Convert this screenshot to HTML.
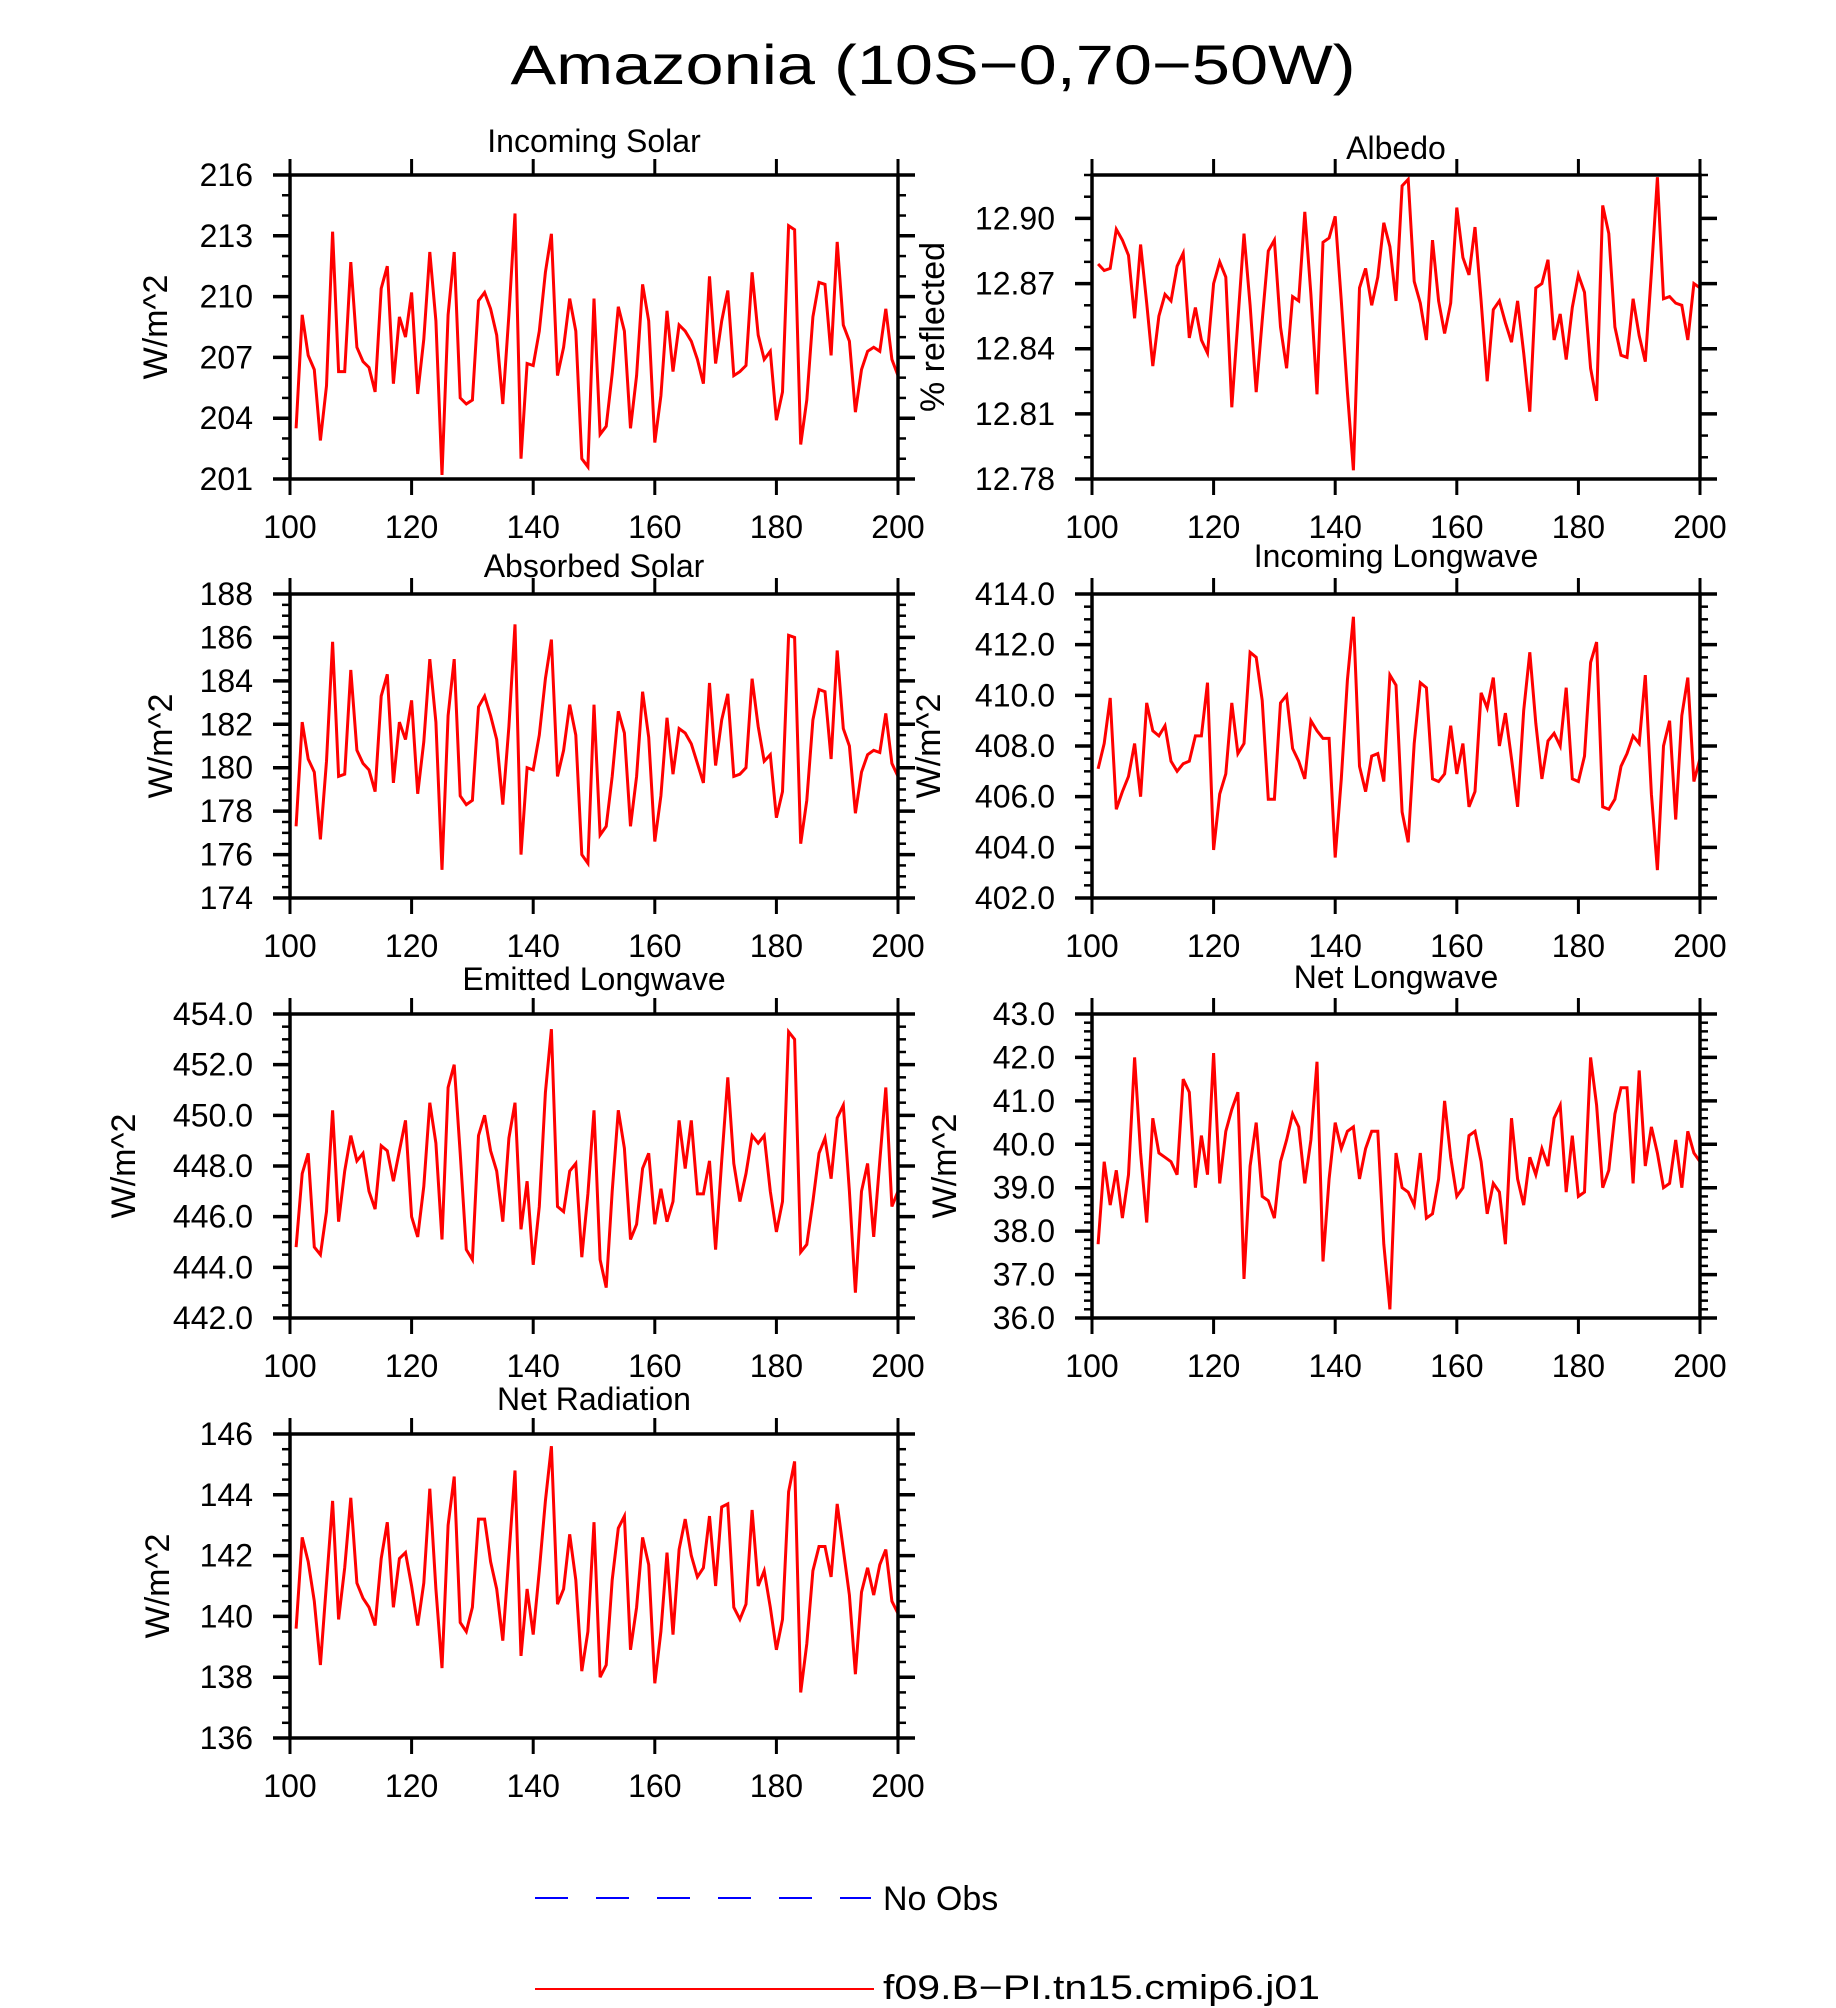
<!DOCTYPE html>
<html>
<head>
<meta charset="utf-8">
<style>
html,body{margin:0;padding:0;background:#fff;}
svg{display:block;font-family:"Liberation Sans",sans-serif;}
</style>
</head>
<body>
<svg id="chart" xmlns="http://www.w3.org/2000/svg" width="1836" height="2008" viewBox="0 0 1836 2008">
<rect x="0" y="0" width="1836" height="2008" fill="#fff"/>
<text x="933" y="84" font-size="56" text-anchor="middle" textLength="845" lengthAdjust="spacingAndGlyphs">Amazonia (10S−0,70−50W)</text>
<g id="panels"></g>
<g>
<line x1="535" y1="1898" x2="871" y2="1898" stroke="#0000ff" stroke-width="2" stroke-dasharray="33,28"/>
<text x="883" y="1910" font-size="34">No Obs</text>
<line x1="535" y1="1989" x2="874" y2="1989" stroke="#ff0000" stroke-width="2"/>
<text x="883" y="1999" font-size="34" textLength="437" lengthAdjust="spacingAndGlyphs">f09.B−PI.tn15.cmip6.j01</text>
</g>
</svg>
<script>
const startYear = 101;
const xTicks = [100, 120, 140, 160, 180, 200];
const incomingSolar = [203.5,209.1,207.1,206.4,202.9,205.6,213.2,206.3,206.3,211.7,207.5,206.8,206.5,205.3,210.4,211.5,205.7,209.0,208.0,210.2,205.2,207.9,212.2,208.8,201.2,209.1,212.2,205.0,204.7,204.9,209.8,210.2,209.4,208.1,204.7,209.1,214.1,202.0,206.7,206.6,208.3,211.2,213.1,206.1,207.5,209.9,208.3,202.0,201.6,209.9,203.2,203.6,206.2,209.5,208.3,203.5,206.1,210.6,208.8,202.8,205.1,209.3,206.3,208.6,208.3,207.8,206.9,205.7,211.0,206.7,208.8,210.3,206.1,206.3,206.6,211.2,208.1,206.9,207.3,203.9,205.3,213.5,213.3,202.7,204.9,209.0,210.7,210.6,207.1,212.7,208.6,207.8,204.3,206.4,207.3,207.5,207.3,209.4,206.9,206.1];
const albedo = [12.879,12.876,12.877,12.895,12.890,12.883,12.854,12.888,12.861,12.832,12.855,12.865,12.862,12.878,12.884,12.845,12.859,12.844,12.838,12.870,12.880,12.873,12.813,12.853,12.893,12.860,12.820,12.853,12.885,12.890,12.850,12.831,12.864,12.862,12.903,12.865,12.819,12.889,12.891,12.901,12.862,12.820,12.784,12.868,12.877,12.860,12.873,12.898,12.887,12.862,12.915,12.918,12.871,12.861,12.844,12.890,12.862,12.847,12.861,12.905,12.882,12.874,12.896,12.862,12.825,12.858,12.862,12.852,12.843,12.862,12.838,12.811,12.868,12.870,12.881,12.844,12.856,12.835,12.859,12.874,12.866,12.831,12.816,12.906,12.893,12.850,12.837,12.836,12.863,12.846,12.834,12.875,12.919,12.863,12.864,12.861,12.860,12.844,12.870,12.868];
const absorbedSolar = [177.3,182.1,180.4,179.8,176.7,180.3,185.8,179.6,179.7,184.5,180.8,180.2,179.9,178.9,183.3,184.3,179.3,182.1,181.3,183.1,178.8,181.2,185.0,182.1,175.3,182.4,185.0,178.7,178.3,178.5,182.8,183.3,182.4,181.3,178.3,181.9,186.6,176.0,180.0,179.9,181.5,184.1,185.9,179.6,180.8,182.9,181.5,176.0,175.6,182.9,176.9,177.3,179.6,182.6,181.6,177.3,179.6,183.5,181.4,176.6,178.7,182.3,179.7,181.8,181.6,181.1,180.2,179.3,183.9,180.1,182.2,183.4,179.6,179.7,180.0,184.1,181.9,180.3,180.6,177.7,178.9,186.1,186.0,176.5,178.5,182.2,183.6,183.5,180.4,185.4,181.8,181.0,177.9,179.8,180.6,180.8,180.7,182.5,180.2,179.6];
const incomingLongwave = [407.1,408.1,409.9,405.5,406.2,406.8,408.1,406.0,409.7,408.6,408.4,408.8,407.4,407.0,407.3,407.4,408.4,408.4,410.5,403.9,406.1,406.9,409.7,407.7,408.1,411.7,411.5,409.8,405.9,405.9,409.7,410.0,407.9,407.4,406.7,409.0,408.6,408.3,408.3,403.6,406.7,410.6,413.1,407.2,406.2,407.6,407.7,406.6,410.8,410.4,405.4,404.2,408.1,410.5,410.3,406.7,406.6,406.9,408.8,406.9,408.1,405.6,406.2,410.1,409.5,410.7,408.0,409.3,407.5,405.6,409.4,411.7,408.9,406.7,408.2,408.5,408.0,410.3,406.7,406.6,407.6,411.3,412.1,405.6,405.5,405.9,407.2,407.7,408.4,408.1,410.8,406.1,403.1,408.0,409.0,405.1,409.2,410.7,406.6,407.5];
const emittedLongwave = [444.8,447.7,448.5,444.8,444.5,446.2,450.2,445.8,447.8,449.2,448.2,448.5,447.0,446.3,448.8,448.6,447.4,448.6,449.8,446.0,445.2,447.2,450.5,448.9,445.1,451.1,452.0,448.5,444.7,444.3,449.2,450.0,448.6,447.8,445.8,449.1,450.5,445.5,447.4,444.1,446.4,450.9,453.4,446.4,446.2,447.8,448.1,444.4,446.9,450.2,444.3,443.2,447.0,450.2,448.7,445.1,445.7,447.9,448.5,445.7,447.1,445.8,446.6,449.8,447.9,449.8,446.9,446.9,448.2,444.7,448.2,451.5,448.1,446.6,447.7,449.2,448.9,449.2,447.0,445.4,446.6,453.3,453.0,444.6,444.9,446.6,448.5,449.1,447.5,449.9,450.4,447.0,443.0,447.0,448.1,445.2,448.2,451.1,446.4,447.0];
const netLongwave = [37.7,39.6,38.6,39.4,38.3,39.3,42.0,39.8,38.2,40.6,39.8,39.7,39.6,39.3,41.5,41.2,39.0,40.2,39.3,42.1,39.1,40.3,40.8,41.2,36.9,39.5,40.5,38.8,38.7,38.3,39.6,40.1,40.7,40.4,39.1,40.1,41.9,37.3,39.2,40.5,39.9,40.3,40.4,39.2,39.9,40.3,40.3,37.7,36.2,39.8,39.0,38.9,38.6,39.8,38.3,38.4,39.2,41.0,39.7,38.8,39.0,40.2,40.3,39.6,38.4,39.1,38.9,37.7,40.6,39.2,38.6,39.7,39.3,39.9,39.5,40.6,40.9,38.9,40.2,38.8,38.9,42.0,40.9,39.0,39.4,40.7,41.3,41.3,39.1,41.7,39.5,40.4,39.8,39.0,39.1,40.1,39.0,40.3,39.8,39.6];
const netRadiation = [139.6,142.6,141.8,140.5,138.4,141.1,143.8,139.9,141.6,143.9,141.1,140.6,140.3,139.7,141.9,143.1,140.3,141.9,142.1,141.0,139.7,141.1,144.2,140.9,138.3,143.0,144.6,139.8,139.5,140.3,143.2,143.2,141.8,140.9,139.2,142.0,144.8,138.7,140.9,139.4,141.5,143.8,145.6,140.4,140.9,142.7,141.2,138.2,139.5,143.1,138.0,138.4,141.2,142.9,143.3,138.9,140.3,142.6,141.7,137.8,139.5,142.1,139.4,142.2,143.2,142.0,141.3,141.6,143.3,141.0,143.6,143.7,140.3,139.9,140.4,143.5,141.0,141.5,140.3,138.9,139.9,144.1,145.1,137.5,139.1,141.5,142.3,142.3,141.3,143.7,142.2,140.7,138.1,140.8,141.6,140.7,141.7,142.2,140.5,140.1];

const panelTitles = ["Incoming Solar","Albedo","Absorbed Solar","Incoming Longwave","Emitted Longwave","Net Longwave","Net Radiation"];
const yTitles = ["W/m^2","% reflected","W/m^2","W/m^2","W/m^2","W/m^2","W/m^2"];
const panelSeries = [incomingSolar, albedo, absorbedSolar, incomingLongwave, emittedLongwave, netLongwave, netRadiation];
const yMins = [201, 12.78, 174, 402, 442, 36, 136];
const yMaxs = [216, 12.92, 188, 414, 454, 43, 146];
const yMajors = [3, 0.03, 2, 2, 2, 1, 2];
const yMinors = [1, 0.01, 0.5, 0.5, 0.5, 0.2, 0.5];
const yDecimals = [0, 2, 0, 1, 1, 1, 0];

// layout (not data)
const colX = [290, 1092];
const boxW = 608;
const rowY = [175, 594, 1014, 1434];
const boxH = 304;
const titleBaselines = [152, 159, 577, 567, 990, 988, 1410];
const yTitleX = [156, 933, 161, 929, 124, 945, 158];

const NS = "http://www.w3.org/2000/svg";
const root = document.getElementById("panels");
function mk(tag, attrs, parent){
  const e = document.createElementNS(NS, tag);
  for (const k in attrs) e.setAttribute(k, attrs[k]);
  parent.appendChild(e);
  return e;
}

panelSeries.forEach(function(series, p){
  const left = colX[p % 2], top = rowY[Math.floor(p / 2)];
  const right = left + boxW, bottom = top + boxH;
  const ymin = yMins[p], ymax = yMaxs[p];
  const xs = function(v){ return left + (v - 100) / 100 * boxW; };
  const ys = function(v){ return bottom - (v - ymin) / (ymax - ymin) * boxH; };
  const slug = panelTitles[p].toLowerCase().replace(/ /g, "-");

  const g = mk("g", {}, root);
  
  

  const t = mk("text", {x: left + boxW / 2, y: titleBaselines[p], "font-size": 32, "text-anchor": "middle"}, g);
  t.textContent = panelTitles[p];
  
  

  const cy = (top + bottom) / 2, tx = yTitleX[p];
  const yt = mk("text", {x: tx, y: cy, "font-size": 34, "text-anchor": "middle", "dominant-baseline": "central", transform: "rotate(-90 " + tx + " " + cy + ")"}, g);
  yt.textContent = yTitles[p];
  
  

  const nMinor = Math.round((ymax - ymin) / yMinors[p]);
  for (let i = 0; i <= nMinor; i++) {
    const yy = ys(ymin + i * yMinors[p]);
    const l1 = mk("line", {x1: left - 8, y1: yy, x2: left, y2: yy, stroke: "#000", "stroke-width": 2.5}, g);
    
    
    const l2 = mk("line", {x1: right, y1: yy, x2: right + 8, y2: yy, stroke: "#000", "stroke-width": 2.5}, g);
    
    
  }
  const nMajor = Math.round((ymax - ymin) / yMajors[p] + 1e-6);
  for (let i = 0; i <= nMajor; i++) {
    const v = ymin + i * yMajors[p];
    if (v > ymax + 1e-9) break;
    const yy = ys(v);
    const l1 = mk("line", {x1: left - 17, y1: yy, x2: left, y2: yy, stroke: "#000", "stroke-width": 3.5}, g);
    
    
    const l2 = mk("line", {x1: right, y1: yy, x2: right + 17, y2: yy, stroke: "#000", "stroke-width": 3.5}, g);
    
    
    const lb = mk("text", {x: left - 37, y: yy + 11, "font-size": 32, "text-anchor": "end"}, g);
    lb.textContent = v.toFixed(yDecimals[p]);
    
    
  }
  xTicks.forEach(function(xv){
    const xx = xs(xv);
    const a = mk("line", {x1: xx, y1: top - 16, x2: xx, y2: top, stroke: "#000", "stroke-width": 3}, g);
    
    
    const b = mk("line", {x1: xx, y1: bottom, x2: xx, y2: bottom + 16, stroke: "#000", "stroke-width": 3}, g);
    
    
    const lb = mk("text", {x: xx, y: bottom + 59, "font-size": 32, "text-anchor": "middle"}, g);
    lb.textContent = String(xv);
    
    
  });

  const pts = series.map(function(v, i){ return xs(startYear + i).toFixed(1) + "," + ys(v).toFixed(1); }).join(" ");
  const pl = mk("polyline", {points: pts, fill: "none", stroke: "#ff0000", "stroke-width": 3, "stroke-linejoin": "miter"}, g);
  
  

  const r = mk("rect", {x: left, y: top, width: boxW, height: boxH, fill: "none", stroke: "#000", "stroke-width": 3.5}, g);
  
  
});
</script>
</body>
</html>
